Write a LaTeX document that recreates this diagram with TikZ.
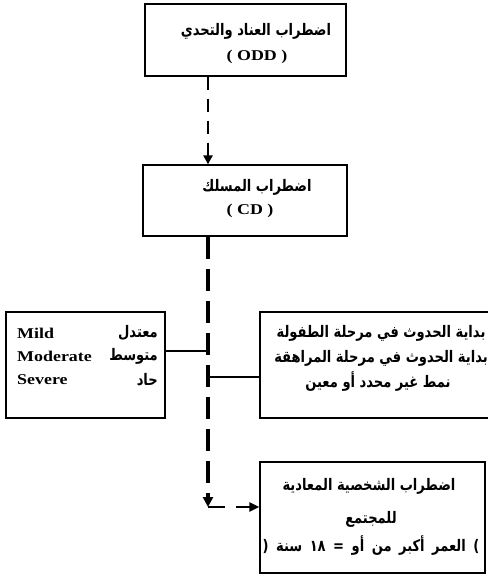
\documentclass[tikz,border=0pt]{standalone}
\usepackage{fontspec}
\usetikzlibrary{arrows.meta}
\TeXXeTstate=1
\newfontfamily\ar[Script=Arabic,FakeStretch=0.82]{DejaVu Sans}
\newfontfamily\lat[FakeStretch=1.2]{Liberation Serif}
\tikzset{
  box/.style={draw, line width=1.3bp, inner sep=0pt},
  artxt/.style={inner sep=0pt, font=\ar\bfseries\fontsize{16}{18}\selectfont},
  lattxt/.style={inner sep=0pt, font=\lat\bfseries\fontsize{15}{18}\selectfont},
  spinedash/.style={line width=2.5bp, dash pattern=on 13bp off 9bp, -{Triangle[length=9bp,width=9bp]}},
  thickdash/.style={line width=3.5bp, dash pattern=on 22bp off 10bp, -{Triangle[length=10bp,width=10bp]}},
  branch/.style={line width=2bp},
}
\begin{document}
\begin{tikzpicture}[x=1bp,y=-1bp]
\useasboundingbox (0,0) rectangle (488,578);
% boxes
\node[box, minimum width=201bp, minimum height=72bp] (odd) at (245.5,40) {};
\node[box, minimum width=204bp, minimum height=71bp] (cd) at (245,200.5) {};
\node[box, minimum width=159bp, minimum height=106bp] (sev) at (85.5,365) {};
\node[box, minimum width=245bp, minimum height=106bp] (onset) at (382.5,365) {};
\node[box, minimum width=225bp, minimum height=111bp] (aspd) at (372.5,517.5) {};
% texts
\node[artxt] (t1) at (256,31) {\beginR اضطراب العناد والتحدي\endR};
\node[lattxt] (t2) at (257,57) {( ODD )};
\node[artxt] (t3) at (257,187) {\beginR اضطراب المسلك\endR};
\node[lattxt] (t4) at (250,211) {( CD )};
\node[lattxt, anchor=west] (m1) at (17,333) {Mild};
\node[lattxt, anchor=west] (m2) at (17,356) {Moderate};
\node[lattxt, anchor=west] (m3) at (17,380) {Severe};
\node[artxt, anchor=east] (a1) at (158,333) {\beginR معتدل\endR};
\node[artxt, anchor=east] (a2) at (158,356) {\beginR متوسط\endR};
\node[artxt, anchor=east] (a3) at (158,380) {\beginR حاد\endR};
\node[artxt] (o1) at (381,333) {\beginR بداية الحدوث في مرحلة الطفولة\endR};
\node[artxt] (o2) at (381,358) {\beginR بداية الحدوث في مرحلة المراهقة\endR};
\node[artxt] (o3) at (378,382) {\beginR نمط غير محدد أو معين\endR};
\node[artxt] (p1) at (369,486) {\beginR اضطراب الشخصية المعادية\endR};
\node[artxt] (p2) at (371,519) {\beginR للمجتمع\endR};
\node[artxt] (p3) at (371,546) {\spaceskip=7.5bp\relax(\ \beginR العمر أكبر من أو = ١٨ سنة\endR\ )};
% connectors
\coordinate (spine) at (208,0);
\coordinate (corner) at (208,507);
\draw[spinedash] (odd.south -| spine) -- (cd.north -| spine);
\draw[thickdash] (cd.south -| spine) -- (corner);
\draw[line width=2.5bp, dash pattern=on 17bp off 11bp on 40bp, -{Triangle[length=10bp,width=9bp]}] (corner) -- (aspd.west |- corner);
\draw[branch] (sev.east |- 0,351) -- (spine |- 0,351);
\draw[branch] (spine |- 0,377) -- (onset.west |- 0,377);
\end{tikzpicture}
\end{document}
